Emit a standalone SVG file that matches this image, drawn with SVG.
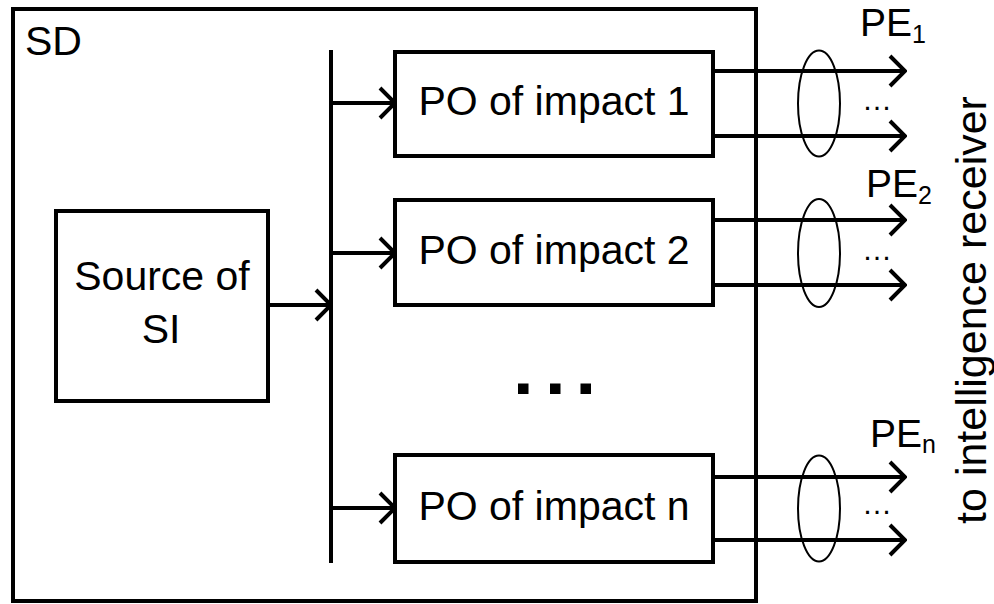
<svg xmlns="http://www.w3.org/2000/svg" width="994" height="604" viewBox="0 0 994 604">
<style>
.box{fill:none;stroke:#000;stroke-width:4}
.ln{fill:none;stroke:#000;stroke-width:4}
.ell{fill:none;stroke:#000;stroke-width:2}
.t{font-family:"Liberation Sans",Arial,sans-serif;font-size:41px;fill:#000}
.pe{font-size:39px}
.sub{font-size:25px}
.dots{font-family:"Liberation Sans",Arial,sans-serif;font-size:30px;fill:#000}
</style>
<defs>
<marker id="arr" viewBox="-18 -18 20 36" refX="0" refY="0" markerWidth="20" markerHeight="36" markerUnits="userSpaceOnUse" orient="auto">
<path d="M-15,-15 L0,0 L-15,15" fill="none" stroke="#000" stroke-width="4"/>
</marker>
</defs>
<rect width="994" height="604" fill="#fff"/>
<g id="sd">
<rect class="box" x="13" y="9" width="743" height="592"/>
<text class="t" x="25" y="55">SD</text>
</g>
<g id="source">
<rect class="box" x="56" y="211" width="212" height="190"/>
<text class="t" x="162" y="290" text-anchor="middle">Source of</text>
<text class="t" x="161" y="343" text-anchor="middle">SI</text>
</g>
<g id="po1">
<rect class="box" x="395" y="52" width="318" height="104"/>
<text class="t" x="554" y="115" text-anchor="middle">PO of impact 1</text>
</g>
<g id="po2">
<rect class="box" x="395" y="200" width="318" height="105"/>
<text class="t" x="554" y="264" text-anchor="middle">PO of impact 2</text>
</g>
<g id="pon">
<rect class="box" x="395" y="455" width="318" height="107"/>
<text class="t" x="554" y="520" text-anchor="middle">PO of impact n</text>
</g>
<g id="ellipsis">
<rect x="518" y="383.5" width="10.5" height="10.5" fill="#000"/>
<rect x="550" y="383.5" width="10.5" height="10.5" fill="#000"/>
<rect x="580.5" y="383.5" width="10.5" height="10.5" fill="#000"/>
</g>
<g id="connectors">
<line class="ln" x1="331" y1="50" x2="331" y2="563"/>
<line class="ln" x1="268" y1="305" x2="331" y2="305" marker-end="url(#arr)"/>
<line class="ln" x1="331" y1="103" x2="395" y2="103" marker-end="url(#arr)"/>
<line class="ln" x1="331" y1="253" x2="395" y2="253" marker-end="url(#arr)"/>
<line class="ln" x1="331" y1="508" x2="395" y2="508" marker-end="url(#arr)"/>
<line class="ln" x1="713" y1="71" x2="905" y2="71" marker-end="url(#arr)"/>
<line class="ln" x1="713" y1="136" x2="905" y2="136" marker-end="url(#arr)"/>
<line class="ln" x1="713" y1="220" x2="905" y2="220" marker-end="url(#arr)"/>
<line class="ln" x1="713" y1="285" x2="905" y2="285" marker-end="url(#arr)"/>
<line class="ln" x1="713" y1="477" x2="905" y2="477" marker-end="url(#arr)"/>
<line class="ln" x1="713" y1="540" x2="905" y2="540" marker-end="url(#arr)"/>
<ellipse class="ell" cx="819" cy="103.5" rx="21" ry="53"/>
<ellipse class="ell" cx="819" cy="253" rx="21" ry="54"/>
<ellipse class="ell" cx="819" cy="508.5" rx="21" ry="53"/>
</g>
<g id="labels">
<text class="dots" x="862" y="110">…</text>
<text class="dots" x="862" y="260">…</text>
<text class="dots" x="862" y="514">…</text>
<text class="t pe" x="860" y="36">PE<tspan class="sub" dy="7">1</tspan></text>
<text class="t pe" x="866" y="197">PE<tspan class="sub" dy="7">2</tspan></text>
<text class="t pe" x="870" y="447">PE<tspan class="sub" dy="6">n</tspan></text>
<text class="t" style="font-size:43px" transform="translate(986,310) rotate(-90)" text-anchor="middle">to intelligence receiver</text>
</g>
</svg>
